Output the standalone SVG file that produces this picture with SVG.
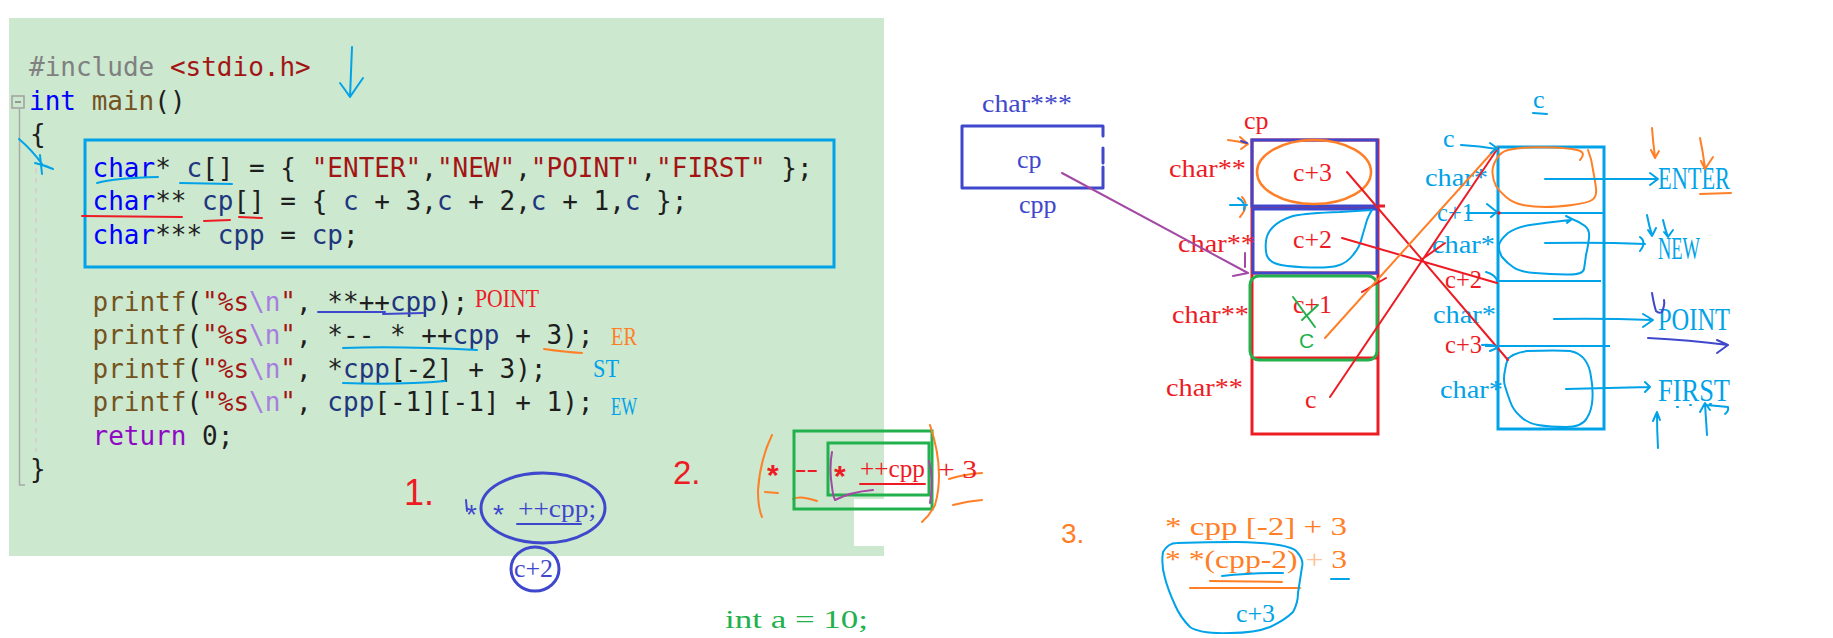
<svg xmlns="http://www.w3.org/2000/svg" width="1833" height="638" viewBox="0 0 1833 638">
<style>
.code{font-family:"DejaVu Sans Mono","Liberation Mono",monospace;font-size:26px;fill:#1e1e1e}
.h{font-family:"Liberation Serif","Times New Roman",serif;font-size:26px}
.hs{font-family:"Liberation Sans",Arial,sans-serif}
.s{fill:none;stroke-linecap:round;stroke-linejoin:round;stroke-width:2}
.R{fill:#ed1c24}.O{fill:#ff7f27}.C{fill:#00a2e8}.B{fill:#3f48cc}.G{fill:#22b14c}
.sr{stroke:#ed1c24}.so{stroke:#ff7f27}.sc{stroke:#00a2e8}.sb{stroke:#3f48cc}.sg{stroke:#22b14c}.sp{stroke:#a349a4}
.kw{fill:#0000ff}.fn{fill:#74531f}.str{fill:#a31515}.var{fill:#1f377f}.esc{fill:#a77ee0}.ret{fill:#8f08c4}.pp{fill:#808080}
.w3{stroke-width:3}
.big{font-size:31px}
</style>
<rect width="1833" height="638" fill="#ffffff"/>
<path d="M9,18H884V499H854V546H884V556H9Z" fill="#cce8cf"/>

<g id="code">
<rect x="12" y="96" width="12" height="12" fill="none" stroke="#a0a0a0" stroke-width="1.5"/>
<path d="M15,102H21" stroke="#808080" stroke-width="1.5"/>
<path d="M19.5,109V485H25" fill="none" stroke="#a8a8a8" stroke-width="1.5"/>
<path d="M36,168V452" stroke="#d9c9cc" stroke-width="1.5" stroke-dasharray="5,5"/>
<text class="code" x="29" y="76" xml:space="preserve"><tspan class="pp">#include</tspan> <tspan class="str">&lt;stdio.h&gt;</tspan></text>
<text class="code" x="29" y="109.5" xml:space="preserve"><tspan class="kw">int</tspan> <tspan class="fn">main</tspan>()</text>
<text class="code" x="30" y="143">{</text>
<text class="code" x="92.5" y="176.5" xml:space="preserve"><tspan class="kw">char</tspan>* <tspan class="var">c</tspan>[] = { <tspan class="str">"ENTER"</tspan>,<tspan class="str">"NEW"</tspan>,<tspan class="str">"POINT"</tspan>,<tspan class="str">"FIRST"</tspan> };</text>
<text class="code" x="92.5" y="210" xml:space="preserve"><tspan class="kw">char</tspan>** <tspan class="var">cp</tspan>[] = { <tspan class="var">c</tspan> + 3,<tspan class="var">c</tspan> + 2,<tspan class="var">c</tspan> + 1,<tspan class="var">c</tspan> };</text>
<text class="code" x="92.5" y="243.5" xml:space="preserve"><tspan class="kw">char</tspan>*** <tspan class="var">cpp</tspan> = <tspan class="var">cp</tspan>;</text>
<text class="code" x="92.5" y="310.5" xml:space="preserve"><tspan class="fn">printf</tspan>(<tspan class="str">"%s</tspan><tspan class="esc">\n</tspan><tspan class="str">"</tspan>, **++<tspan class="var">cpp</tspan>);</text>
<text class="code" x="92.5" y="344" xml:space="preserve"><tspan class="fn">printf</tspan>(<tspan class="str">"%s</tspan><tspan class="esc">\n</tspan><tspan class="str">"</tspan>, *-- * ++<tspan class="var">cpp</tspan> + 3);</text>
<text class="code" x="92.5" y="377.5" xml:space="preserve"><tspan class="fn">printf</tspan>(<tspan class="str">"%s</tspan><tspan class="esc">\n</tspan><tspan class="str">"</tspan>, *<tspan class="var">cpp</tspan>[-2] + 3);</text>
<text class="code" x="92.5" y="411" xml:space="preserve"><tspan class="fn">printf</tspan>(<tspan class="str">"%s</tspan><tspan class="esc">\n</tspan><tspan class="str">"</tspan>, <tspan class="var">cpp</tspan>[-1][-1] + 1);</text>
<text class="code" x="92.5" y="444.5" xml:space="preserve"><tspan class="ret">return</tspan> 0;</text>
<text class="code" x="30" y="478">}</text>
<rect x="85" y="140" width="749" height="127" fill="none" stroke="#00a2e8" stroke-width="3"/>
</g>

<g id="code-marks">
<path class="s sc" d="M352,47Q351,70 350,97M340,83Q346,91 350,97Q356,88 363,78"/>
<path class="s sc" d="M19,139Q32,150 42,164M35,163Q44,165 53,169M40,155L42,174"/>
<path class="s sc" d="M97,183Q115,178 158,177M180,183L232,184"/>
<path class="s sr" d="M82,216L182,217M204,221L230,220M239,217L262,218"/>
<path class="s sb" d="M318,312L385,312M383,314L423,313"/>
<path class="s sc" d="M343,348Q400,346 477,350M343,383Q400,385 445,381"/>
<path class="s so" d="M544,349Q565,352 582,353"/>
<text class="h R" x="475" y="307" textLength="64" lengthAdjust="spacingAndGlyphs">POINT</text>
<text class="h O" x="611" y="345" textLength="26" lengthAdjust="spacingAndGlyphs">ER</text>
<text class="h C" x="593" y="377" textLength="26" lengthAdjust="spacingAndGlyphs">ST</text>
<text class="h C" x="611" y="415" textLength="26" lengthAdjust="spacingAndGlyphs">EW</text>
</g>

<g id="note-1">
<text class="hs R" x="404" y="505" font-size="36" font-weight="300">1.</text>
<path class="s sb" d="M466,500L467,511"/>
<text class="hs B" x="466" y="524" font-size="28">*</text>
<ellipse cx="543" cy="508" rx="62" ry="35" fill="none" stroke="#3f48cc" stroke-width="3"/>
<text class="hs B" x="493" y="524" font-size="28">*</text>
<text class="h B" x="518" y="517" textLength="78" lengthAdjust="spacingAndGlyphs">++cpp;</text>
<path class="s sb" d="M517,524L581,524"/>
<ellipse cx="535" cy="569" rx="24" ry="22" fill="none" stroke="#3f48cc" stroke-width="3"/>
<text class="h B" x="514" y="577" textLength="39" lengthAdjust="spacingAndGlyphs">c+2</text>
</g>

<g id="note-2">
<text class="hs R" x="673" y="484" font-size="33" font-weight="300">2.</text>
<path class="s so" d="M772,435Q760,460 758,490Q758,508 762,517M765,492L778,493M793,499Q800,495 817,501"/>
<text class="hs R" x="767" y="485" font-size="30" font-weight="bold">*</text>
<text class="h R" x="795" y="477" textLength="23" lengthAdjust="spacingAndGlyphs">--</text>
<rect x="794" y="431" width="138" height="78" fill="none" stroke="#22b14c" stroke-width="3"/>
<rect x="828" y="443" width="101" height="52" fill="none" stroke="#22b14c" stroke-width="3"/>
<path class="s sp" d="M832,452Q829,468 832,487Q833,496 835,500Q850,492 873,490M929,461Q934,480 930,503"/>
<text class="hs R" x="834" y="486" font-size="30" font-weight="bold">*</text>
<text class="h R" x="860" y="477" textLength="65" lengthAdjust="spacingAndGlyphs">++cpp</text>
<path class="s sr" d="M860,484L925,484"/>
<path class="s so" d="M930,425Q945,470 935,505Q930,515 922,522M949,479Q965,474 982,473M953,505Q968,501 982,500"/>
<text class="h R" x="938" y="478" textLength="39" lengthAdjust="spacingAndGlyphs">+ 3</text>
</g>

<g id="note-int">
<text class="h G" x="725" y="628" textLength="143" lengthAdjust="spacingAndGlyphs">int a = 10;</text>
</g>

<g id="note-3">
<text class="hs O" x="1061" y="543" font-size="28" font-weight="300">3.</text>
<text class="h O" x="1165" y="535" textLength="182" lengthAdjust="spacingAndGlyphs">* cpp [-2] + 3</text>
<text class="h O" x="1165" y="568" textLength="182" lengthAdjust="spacingAndGlyphs">* *(cpp-2) <tspan fill="#ffbf99">+</tspan> 3</text>
<path class="s sc" d="M1222,576Q1250,573 1283,573M1331,579L1349,579"/>
<path class="s so" d="M1210,581L1282,582M1190,588L1300,588"/>
<path class="s sc" d="M1163,552Q1168,543 1177,543Q1207,542 1237,542Q1290,543 1297,552Q1304,560 1302,567Q1300,580 1298,593Q1298,603 1293,612Q1285,620 1270,627Q1255,633 1230,633Q1200,634 1190,627Q1180,617 1175,605Q1168,590 1165,578Q1161,565 1163,552"/>
<text class="h C" x="1236" y="622" textLength="39" lengthAdjust="spacingAndGlyphs">c+3</text>
</g>

<g id="cpp-box">
<text class="h B" x="982" y="112" textLength="90" lengthAdjust="spacingAndGlyphs">char***</text>
<path class="s sb w3" d="M1103,136V126H962V188H1103V167M1103,148V163"/>
<text class="h B" x="1017" y="168">cp</text>
<text class="h B" x="1019" y="213">cpp</text>
</g>

<g id="cp-array">
<text class="h R" x="1244" y="129">cp</text>
<rect x="1252" y="140" width="126" height="294" fill="none" stroke="#ed1c24" stroke-width="3"/>
<path d="M1252,207H1378M1252,273H1378M1252,358H1378M1377,206H1385" stroke="#ed1c24" stroke-width="3"/>
<rect x="1252" y="140" width="125" height="66" fill="none" stroke="#3f48cc" stroke-width="3"/>
<rect x="1253" y="209" width="124" height="64" fill="none" stroke="#3f48cc" stroke-width="3"/>
<rect x="1250" y="276" width="127" height="84" rx="9" fill="none" stroke="#22b14c" stroke-width="3"/>
<ellipse cx="1314" cy="172" rx="57" ry="32" fill="none" stroke="#ff7f27" stroke-width="2.5"/>
<path class="s sc" d="M1372,210Q1356,211 1340,212Q1307,213 1293,216Q1280,220 1273,227Q1267,233 1266,241Q1265,250 1267,256Q1270,263 1281,265Q1293,267 1311,267.5Q1330,268 1338,265.5Q1347,263 1353,255Q1360,247 1362,237Q1365,227 1367,220Q1370,213 1372,210"/>
<text class="h R" x="1293" y="181" textLength="39" lengthAdjust="spacingAndGlyphs">c+3</text>
<text class="h R" x="1293" y="248" textLength="39" lengthAdjust="spacingAndGlyphs">c+2</text>
<text class="h R" x="1293" y="313" textLength="39" lengthAdjust="spacingAndGlyphs">c+1</text>
<path class="s sg" d="M1293,297L1315,327M1318,305L1302,320"/>
<text class="hs G" x="1299" y="348" font-size="21">C</text>
<text class="h R" x="1305" y="408">c</text>
<text class="h R" x="1169" y="177" textLength="77" lengthAdjust="spacingAndGlyphs">char**</text>
<text class="h R" x="1178" y="252" textLength="77" lengthAdjust="spacingAndGlyphs">char**</text>
<text class="h R" x="1172" y="323" textLength="77" lengthAdjust="spacingAndGlyphs">char**</text>
<text class="h R" x="1166" y="396" textLength="77" lengthAdjust="spacingAndGlyphs">char**</text>
<path class="s so" d="M1228,140Q1238,141 1248,144M1240,137L1248,144L1241,149M1242,197Q1250,205 1240,217"/>
<path class="s sc" d="M1230,205H1247M1238,198Q1246,202 1244,210"/>
<path class="s sb" d="M1241,141L1247,143"/>
</g>

<g id="c-array">
<text class="h C" x="1533" y="108">c</text>
<path class="s sc" d="M1533,113L1547,114"/>
<rect x="1498" y="147" width="106" height="282" fill="none" stroke="#00a2e8" stroke-width="3"/>
<path d="M1498,213H1604M1498,281H1601M1485,346H1610" stroke="#00a2e8" stroke-width="2"/>
<path class="s so" d="M1580,160Q1587,152 1577,150Q1567,148 1553,147.5Q1540,147 1528,147.5Q1517,148 1508,150Q1500,152 1496,160Q1492,167 1492.5,173Q1493,180 1496,186Q1500,192 1506,197Q1513,203 1523,205Q1533,207 1545,207Q1557,207 1572,205Q1587,203 1592,200Q1597,197 1596,188Q1595,180 1593,170Q1592,160 1588,150"/>
<path class="s sc" d="M1570,220Q1543,223 1530,225Q1517,227 1508,233Q1500,240 1499,245Q1498,250 1502,257Q1507,263 1513,267Q1520,272 1535,273Q1550,274 1566,274.5Q1583,275 1584,269Q1585,263 1586,255Q1588,247 1589,238Q1590,230 1585,226Q1580,222 1572,219M1566,216L1572,219L1567,223"/>
<path class="s sc" d="M1507,360Q1512,353 1527,351Q1557,350 1570,351Q1580,353 1585,360Q1590,367 1591,377Q1593,387 1592.5,398Q1592,410 1587,418Q1582,427 1566,427Q1550,427 1538,425Q1527,423 1520,416Q1513,410 1510,401Q1507,393 1505,386Q1503,380 1505,370Q1506,364 1508,358"/>
<text class="h C" x="1443" y="147">c</text>
<text class="h C" x="1425" y="186" textLength="63" lengthAdjust="spacingAndGlyphs">char*</text>
<text class="h C" x="1437" y="221" textLength="37" lengthAdjust="spacingAndGlyphs">c+1</text>
<text class="h C" x="1432" y="253" textLength="63" lengthAdjust="spacingAndGlyphs">char*</text>
<text class="h R" x="1445" y="288" textLength="37" lengthAdjust="spacingAndGlyphs">c+2</text>
<text class="h C" x="1433" y="323" textLength="63" lengthAdjust="spacingAndGlyphs">char*</text>
<text class="h R" x="1445" y="353" textLength="37" lengthAdjust="spacingAndGlyphs">c+3</text>
<text class="h C" x="1440" y="398" textLength="63" lengthAdjust="spacingAndGlyphs">char*</text>
</g>

<g id="str-enter">
<text class="h C big" x="1658" y="189" textLength="72" lengthAdjust="spacingAndGlyphs">ENTER</text>
<path class="s so" d="M1700,194L1731,193M1652,128Q1653,142 1655,157M1651,150L1655,158L1659,151M1700,138Q1703,152 1705,168M1701,161L1705,169L1713,157"/>
</g>
<g id="str-new">
<text class="h C big" x="1658" y="259" textLength="42" lengthAdjust="spacingAndGlyphs">NEW</text>
<path class="s sc" d="M1647,215Q1649,226 1652,235M1648,230L1652,236L1656,228M1663,220Q1665,229 1668,237M1664,232L1668,237L1673,230"/>
</g>
<g id="str-point">
<text class="h C big" x="1658" y="330" textLength="72" lengthAdjust="spacingAndGlyphs">POINT</text>
<path class="s sb" d="M1652,293Q1654,305 1656,311Q1659,314 1662,312Q1665,305 1664,300M1648,338Q1690,340 1728,345M1717,340L1728,345L1717,353"/>
</g>
<g id="str-first">
<text class="h C big" x="1658" y="401" textLength="72" lengthAdjust="spacingAndGlyphs">FIRST</text>
<path class="s sc" d="M1658,448Q1657,430 1657,413M1653,421L1657,412L1660,420M1707,435Q1706,420 1705,404M1700,412L1705,403L1710,410M1706,405Q1718,406 1728,407Q1729,411 1725,414"/>
<path d="M1677,407h1M1690,405h1M1710,404h1" stroke="#00a2e8" stroke-width="2" stroke-linecap="round"/>
</g>

<g id="connectors">
<path class="s sp" stroke-width="2.5" d="M1062,173L1248,273M1233,276L1248,273M1245,253V267"/>
<path class="s sr" stroke-width="2.5" d="M1347,172L1508,360M1342,238L1497,283M1330,397L1498,148M1362,292L1386,278M1421,260L1445,243"/>
<path class="s so" stroke-width="2.5" d="M1325,338L1497,147"/>
<path class="s sc" d="M1461,145Q1480,146 1497,149M1490,143L1497,148L1491,153M1467,213H1497M1487,204L1497,212L1491,217M1486,272Q1496,275 1497,281M1482,345Q1492,344 1497,347M1490,351L1497,348"/>
<circle cx="1499" cy="213" r="1.8" fill="#ed1c24"/>
<path class="s sc" d="M1545,179L1658,179M1650,173L1658,179L1650,185M1545,243Q1600,242 1645,244M1640,237Q1647,242 1640,251M1554,319Q1600,318 1652,320M1643,314L1653,320L1643,327M1566,389Q1610,388 1650,387M1645,382L1650,387L1645,392"/>
</g>
</svg>
